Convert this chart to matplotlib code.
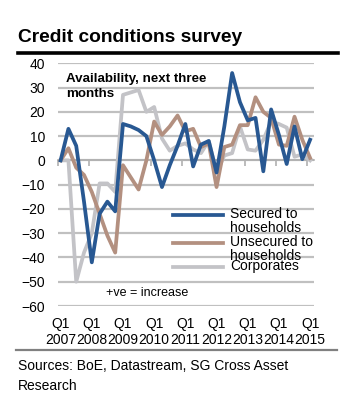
import matplotlib
matplotlib.use('Agg')
import matplotlib.pyplot as plt
from matplotlib.lines import Line2D
import numpy as np

plt.rcParams['font.family'] = ['Liberation Sans', 'DejaVu Sans']

# quarterly survey balances, Q1 2007 .. Q1 2015
secured = [0, 13, 6, -17, -42, -22, -17, -21, 15, 14, 12.5, 10, 0, -11, -2, 6,
           15, -2.5, 6.5, 8, -5, 14, 36, 24, 16.5, 17.5, -4.5, 21, 10.5, -1.5, 14, 0.5, 8.5]
unsecured = [0, 5, -3, -6, -13, -22, -31, -38, -2, -7, -12, 0, 16, 10.5, 14, 18.5,
             12, 13, 5.5, 7, -11, 5.5, 6.5, 14.5, 14.5, 26, 20, 17.5, 6.5, 6, 18, 8.5, 1]
corporates = [0, 0, -50, -38, -30, -9.5, -9.5, -13, 27, 28, 29, 20, 22, 9, 4, 6,
              7, 4.5, 3, 8, -5, 2, 3, 14, 4.5, 4, 8.5, 16, 15, 13.5, 1.5, 2.5, 0]
years = ['2007', '2008', '2009', '2010', '2011', '2012', '2013', '2014', '2015']
series_names = ['Secured to\nhouseholds', 'Unsecured to\nhouseholds', 'Corporates']
colours = ['#285892', '#B39080', '#C3C3C7']

W, H = 349, 403
def fx(px):
    return px / W
def fy(py):
    return 1 - py / H

fig = plt.figure(figsize=(W / 100, H / 100), dpi=100)
ax = fig.add_axes([fx(57.5), fy(306), fx(314) - fx(57.5), fy(63.3) - fy(306)])

x = np.arange(len(secured))
for vals, c in zip([corporates, unsecured, secured], colours[::-1]):
    ax.plot(x, vals, color=c, lw=2.7, solid_joinstyle='round', zorder=3)

ax.set_xlim(-0.32, 32.5)
ax.set_ylim(-60, 40)
ax.set_yticks(np.arange(-60, 41, 10))
ax.yaxis.grid(True, color='#C0C0C0', lw=1.6)
ax.set_axisbelow(True)
for s in ax.spines.values():
    s.set_visible(False)
ax.tick_params(axis='y', length=0, pad=9, labelsize=10)

# category axis sits on the zero line, ticks between years
ax.spines['bottom'].set_visible(True)
ax.spines['bottom'].set_position(('data', 0))
ax.spines['bottom'].set_color('#B0B0B0')
ax.spines['bottom'].set_linewidth(1.2)
ax.set_xticks(np.arange(-0.4, 33, 4))
ax.tick_params(axis='x', length=4, width=1.2, color='#B0B0B0', labelbottom=False)
for k, yr in enumerate(years):
    ax.text(4 * k, -0.045, 'Q1\n' + yr, transform=ax.get_xaxis_transform(),
            ha='center', va='top', fontsize=10, linespacing=1.15)

ax.text(0.035, 0.958, 'Availability, next three\nmonths', transform=ax.transAxes,
        ha='left', va='top', fontsize=9.6, fontweight='bold', linespacing=1.25)
ax.text(0.19, 0.03, '+ve = increase', transform=ax.transAxes,
        ha='left', va='bottom', fontsize=9)

# legend
leg_y = [215, 242.7, 266.7]
for name, c, py in zip(series_names, colours, leg_y):
    fig.add_artist(Line2D([fx(173), fx(223)], [fy(py), fy(py)], color=c, lw=2.7,
                          transform=fig.transFigure))
    fig.text(fx(230), fy(py - 7.5), name, ha='left', va='top', fontsize=10,
             linespacing=1.0)

# title and rules
fig.text(fx(18), fy(42), 'Credit conditions survey', ha='left', va='baseline',
         fontsize=13.8, fontweight='bold')
fig.add_artist(Line2D([fx(18), fx(338)], [fy(52.7), fy(52.7)], color='black', lw=2.6,
                      transform=fig.transFigure))
fig.add_artist(Line2D([fx(16), fx(337)], [fy(349.5), fy(349.5)], color='#808080', lw=1.6,
                      transform=fig.transFigure))
fig.text(fx(18), fy(370), 'Sources: BoE, Datastream, SG Cross Asset', ha='left',
         va='baseline', fontsize=10)
fig.text(fx(18), fy(390), 'Research', ha='left', va='baseline', fontsize=10)

fig.savefig('out.png', dpi=100)
